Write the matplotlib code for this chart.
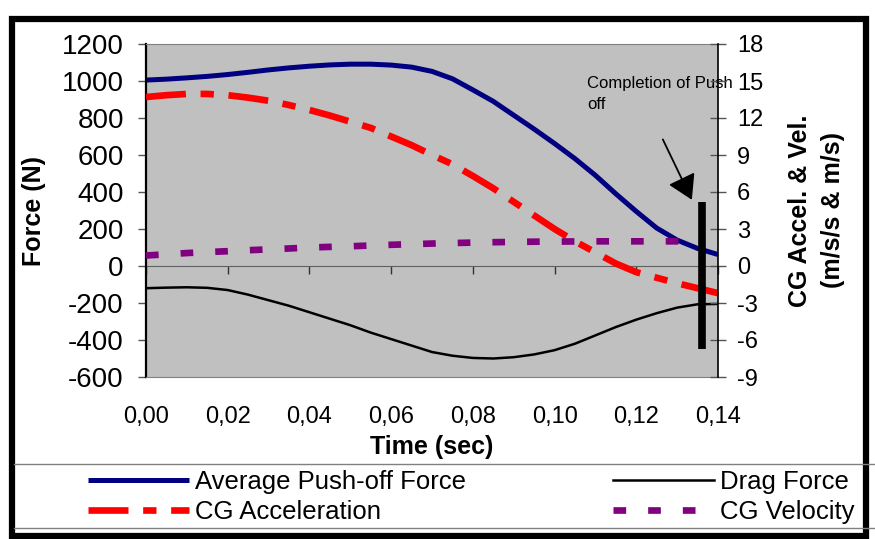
import matplotlib
matplotlib.use("Agg")
import matplotlib.pyplot as plt
from matplotlib.lines import Line2D
from matplotlib.patches import Rectangle
from matplotlib.ticker import FuncFormatter, MultipleLocator

plt.rcParams['font.family'] = ['Liberation Sans', 'DejaVu Sans']
plt.rcParams['axes.unicode_minus'] = False

# --- data ------------------------------------------------------------------
time = [0.000, 0.005, 0.010, 0.015, 0.020, 0.025, 0.030, 0.035, 0.040, 0.045,
        0.050, 0.055, 0.060, 0.065, 0.070, 0.075, 0.080, 0.085, 0.090, 0.095,
        0.100, 0.105, 0.110, 0.115, 0.120, 0.125, 0.130, 0.135, 0.140]

# left axis (N)
push_force = [1005, 1010, 1017, 1025, 1035, 1047, 1060, 1071, 1080, 1087,
              1091, 1091, 1086, 1075, 1052, 1012, 952, 890, 815, 740,
              662, 580, 490, 390, 295, 205, 140, 95, 62]
drag_force = [-120, -117, -115, -118, -130, -155, -185, -215, -250, -285,
              -320, -360, -395, -430, -465, -485, -497, -500, -493, -478,
              -455, -420, -375, -330, -290, -255, -225, -207, -205]

# right axis (m/s/s, m/s)
cg_accel = [13.7, 13.85, 13.95, 13.95, 13.85, 13.65, 13.4, 13.05, 12.65, 12.2,
            11.7, 11.2, 10.5, 9.8, 9.0, 8.25, 7.3, 6.3, 5.2, 4.1,
            3.0, 2.0, 1.1, 0.2, -0.5, -0.95, -1.4, -1.8, -2.2]
time_vel = time[:28]
cg_vel = [0.85, 0.95, 1.05, 1.13, 1.2, 1.28, 1.35, 1.42, 1.5, 1.55,
          1.6, 1.66, 1.72, 1.77, 1.82, 1.86, 1.9, 1.93, 1.95, 1.97,
          1.98, 1.99, 2.0, 2.0, 2.0, 2.0, 2.0, 2.0]

pushoff_end = 0.136          # completion of push-off marker
marker_span = (-6.7, 5.2)    # on right axis

labels = ["Average Push-off Force", "CG Acceleration", "Drag Force", "CG Velocity"]

NAVY, RED, PURPLE = "#000080", "#FF0000", "#800080"
GRAY_BG = "#C0C0C0"

fig = plt.figure(figsize=(8.75, 5.39), dpi=100)
ax = fig.add_axes([146 / 875, 1 - 377 / 539, 572 / 875, 333 / 539])
ax.set_facecolor(GRAY_BG)
ax.set_xlim(0, 0.14)
ax.set_ylim(-600, 1200)

l_push, = ax.plot(time, push_force, color=NAVY, lw=3.6, solid_capstyle='butt')
l_drag, = ax.plot(time, drag_force, color='black', lw=1.8)

ax2 = ax.twinx()
ax2.set_ylim(-9, 18)
l_acc, = ax2.plot(time, cg_accel, color=RED, lw=4.8, dashes=(6, 2.2, 2, 2.2),
                  dash_capstyle='butt')
l_vel, = ax2.plot(time_vel, cg_vel, color=PURPLE, lw=4.8, dashes=(1.9, 3.3),
                  dash_capstyle='butt')
ax2.vlines(pushoff_end, *marker_span, color='black', lw=5.5, zorder=5)

# annotation
ax.text(0.108, 847, "Completion of Push\noff", fontsize=12, va='baseline',
        ha='left', linespacing=1.55)
ax.annotate("", xy=(0.1336, 358), xytext=(0.1265, 684),
            arrowprops=dict(arrowstyle='-|>,head_length=0.75,head_width=0.45',
                            mutation_scale=20, color='black', lw=1.3,
                            shrinkA=0, shrinkB=0))

# spines
for s in ('top', 'bottom'):
    ax.spines[s].set_color('#808080')
ax.spines['left'].set_color('black')
ax.spines['left'].set_linewidth(1.6)
ax.spines['right'].set_visible(False)
for s in ('top', 'bottom', 'left'):
    ax2.spines[s].set_visible(False)
ax2.spines['right'].set_color('black')
ax2.spines['right'].set_linewidth(1.2)

# left axis ticks
ax.yaxis.set_major_locator(MultipleLocator(200))
ax.tick_params(axis='y', direction='out', length=6, width=1, color='#555555',
               labelsize=20, pad=10)
ax.set_ylabel("Force (N)", fontsize=18, fontweight='bold', labelpad=11)

# right axis ticks
ax2.yaxis.set_major_locator(MultipleLocator(3))
ax2.tick_params(axis='y', direction='inout', length=11, width=1, color='#555555',
                labelsize=17, pad=8)
ax2.set_ylabel("CG Accel. & Vel.\n(m/s/s & m/s)", fontsize=18, fontweight='bold',
               labelpad=18, linespacing=1.45)

# x labels at the bottom of the plot area
ax.xaxis.set_major_locator(MultipleLocator(0.02))
ax.xaxis.set_major_formatter(FuncFormatter(lambda v, p: f"{v:.2f}".replace('.', ',')))
ax.tick_params(axis='x', length=0, labelsize=17, pad=21)
ax.set_xlabel("Time (sec)", fontsize=18, fontweight='bold', labelpad=5)

# category axis crossing at zero with its tick marks
y0, y1 = ax.get_ylim()
zero_ax = ax.secondary_xaxis((0 - y0) / (y1 - y0))
zero_ax.xaxis.set_major_locator(MultipleLocator(0.02))
zero_ax.spines['bottom'].set_color('#606060')
zero_ax.tick_params(axis='x', direction='out', length=6, width=1, color='#333333',
                    labelbottom=False)

# legend
fig.legend([l_push, l_acc, l_drag, l_vel], labels, loc='upper left',
           bbox_to_anchor=(88 / 875, 1 - 470 / 539), ncol=2, frameon=False,
           fontsize=18.5, handlelength=3.95, handletextpad=0.23,
           columnspacing=5.7, labelspacing=0.22, borderpad=0, borderaxespad=0)

# legend box lines and outer frame
for yy in (464, 528):
    fig.add_artist(Line2D([14 / 875, 1.0], [1 - yy / 539] * 2, color='#808080',
                          lw=1.0, transform=fig.transFigure))
fig.add_artist(Rectangle((12 / 875, 1 - 536 / 539), 854 / 875, 517.5 / 539,
                         fill=False, ec='black', lw=4.5, transform=fig.transFigure))

fig.savefig("out.png", dpi=100)
